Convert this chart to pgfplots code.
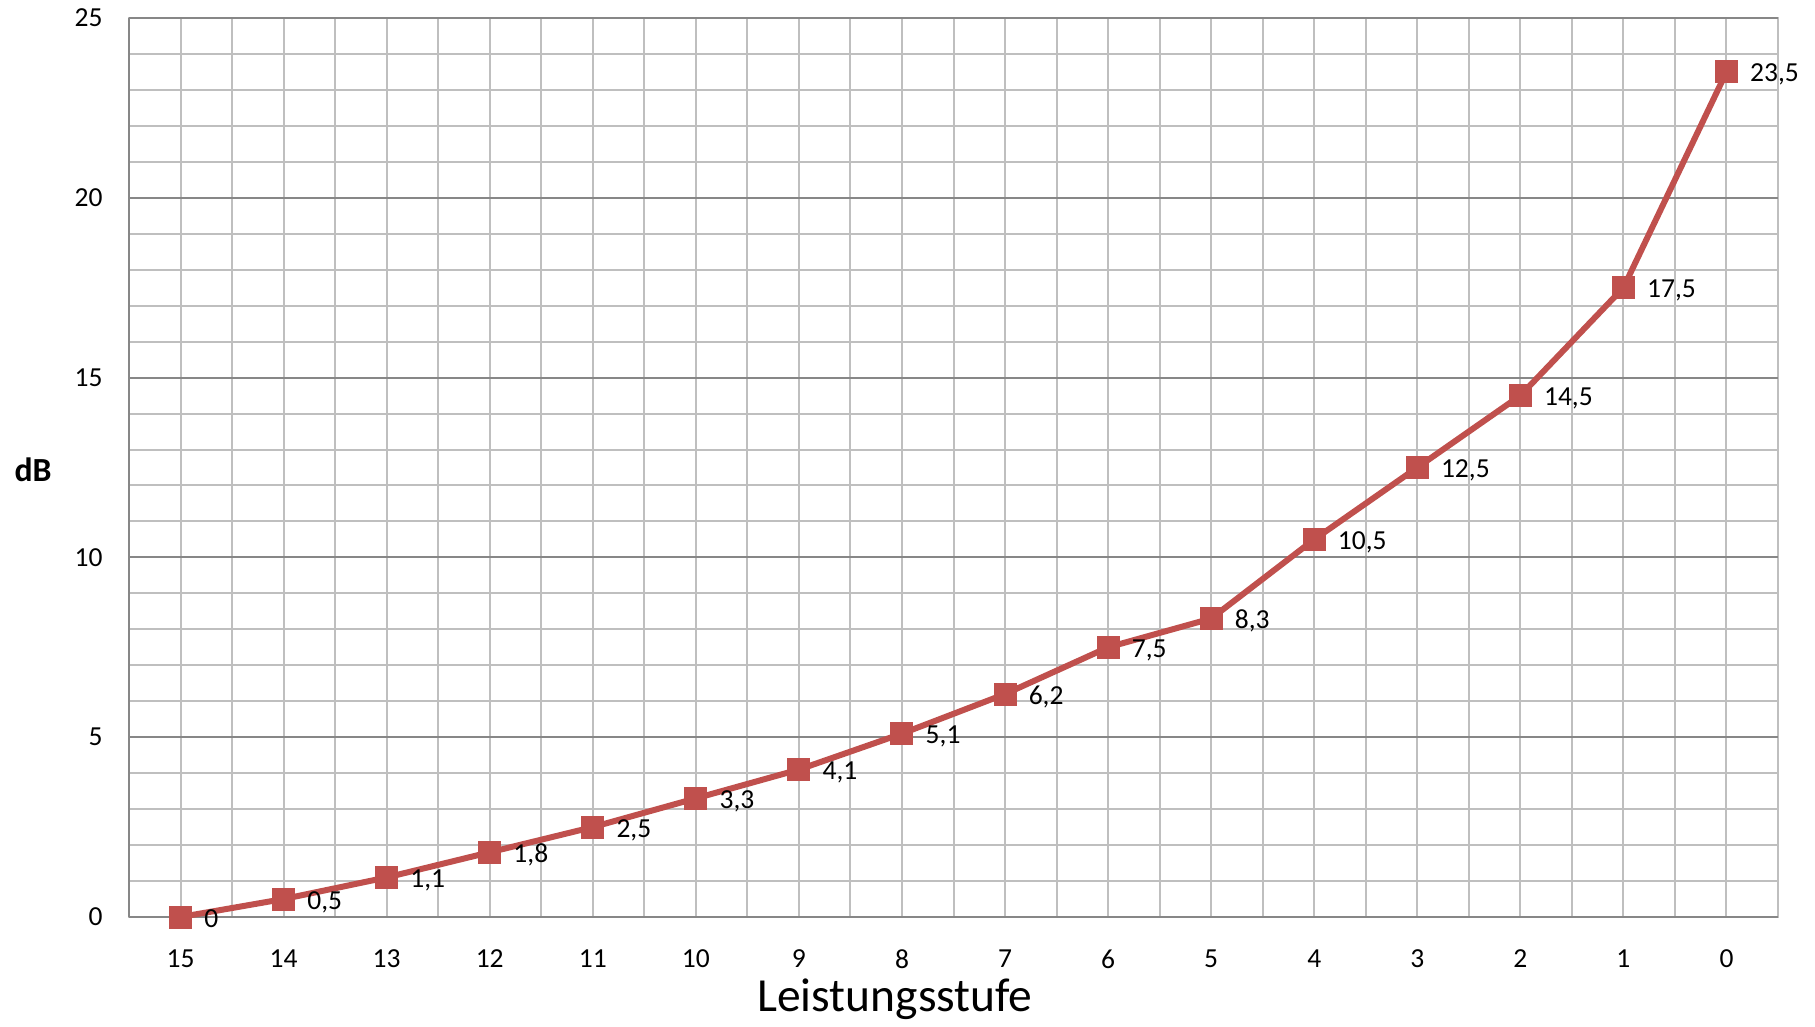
\documentclass[border=0pt]{standalone}
\usepackage{pgfplots}
\pgfplotsset{compat=1.18}
\usepackage{pgfplotstable}
\usepackage{fontspec}
\setmainfont{Carlito}

\definecolor{linered}{HTML}{C0504D}
\definecolor{gridlight}{HTML}{BFBFBF}
\definecolor{griddark}{HTML}{878787}

% Leistungsstufe 15 ... 0 plotted at 0 ... 15
\pgfplotstableread{
x y l
0 0 0
1 0.5 0,5
2 1.1 1,1
3 1.8 1,8
4 2.5 2,5
5 3.3 3,3
6 4.1 4,1
7 5.1 5,1
8 6.2 6,2
9 7.5 7,5
10 8.3 8,3
11 10.5 10,5
12 12.5 12,5
13 14.5 14,5
14 17.5 17,5
15 23.5 23,5
}\dbdata

\begin{document}
\begin{tikzpicture}
\begin{axis}[
  scale only axis,
  width=659.6pt, height=359.6pt,
  xmin=-0.5, xmax=15.5,
  ymin=0, ymax=25,
  xtick={0,...,15},
  xticklabels={15,14,13,12,11,10,9,8,7,6,5,4,3,2,1,0},
  minor xtick={-0.5,0.5,...,15.5},
  ytick={0,5,...,25},
  minor y tick num=4,
  major tick length=0pt, minor tick length=0pt,
  xmajorgrids, xminorgrids, ymajorgrids, yminorgrids,
  grid style={draw=gridlight, line width=0.8pt},
  axis line style={draw=gridlight, line width=0.8pt},
  extra y ticks={0,5,10,15,20,25},
  extra y tick labels={},
  extra y tick style={grid=major, major grid style={draw=griddark, line width=0.8pt}},
  extra x ticks={-0.5},
  extra x tick labels={},
  extra x tick style={grid=major, major grid style={draw=griddark, line width=0.8pt}},
  /pgf/number format/assume math mode=true,
  tick label style={font=\fontsize{11}{13}\selectfont, inner sep=0pt},
  yticklabel style={anchor=east, xshift=-10.4pt},
  xticklabel style={anchor=center, yshift=-16.8pt},
  xlabel={Leistungsstufe},
  xlabel style={at={(rel axis cs:0.4645,0)}, anchor=base, yshift=-37.9pt,
    font=\fontsize{19}{21}\selectfont},
  ylabel={dB},
  ylabel style={at={(rel axis cs:-0.0582,0.4972)}, rotate=-90, anchor=center,
    font=\bfseries\fontsize{13.5}{15}\selectfont},
]
\addplot[color=linered, line width=2.4pt, line join=round,
  mark=square*, mark size=4.4pt, mark options={fill=linered, draw=linered, line width=0pt},
  point meta=explicit symbolic,
  nodes near coords,
  every node near coord/.append style={anchor=base west, xshift=9.5pt, yshift=-4pt,
    inner sep=0pt, text=black, font=\fontsize{11}{13}\selectfont},
] table[x=x, y=y, meta=l] {\dbdata};
\end{axis}
\pgfresetboundingbox
\path ([xshift=-51.6pt, yshift=-43.6pt]current axis.south west)
  rectangle ([xshift=14.8pt, yshift=7.2pt]current axis.north east);
\end{tikzpicture}
\end{document}
